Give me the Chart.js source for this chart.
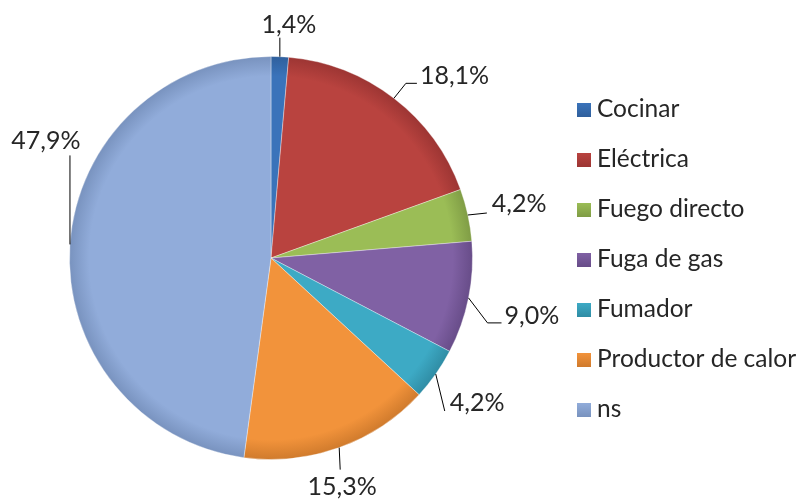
<!DOCTYPE html>
<html>
<head>
<meta charset="utf-8">
<script src="https://cdn.jsdelivr.net/npm/chart.js@4/dist/chart.umd.min.js"></script>
<style>
  html, body { margin: 0; padding: 0; background: #fff; }
  #wrap { width: 805px; height: 501px; position: relative; }
</style>
</head>
<body>
<div id="wrap"><canvas id="pieChart" width="805" height="501"></canvas></div>
<script>
// Chart data
const categories = ["Cocinar", "Eléctrica", "Fuego directo", "Fuga de gas", "Fumador", "Productor de calor", "ns"];
const percentages = [1.4, 18.1, 4.2, 9.0, 4.2, 15.3, 47.9];
const sliceColors = ["#3A73BA", "#B9433F", "#9BBD56", "#8061A4", "#3DAAC5", "#F2933B", "#91ACDA"];
const edgeColors = ["#2F5F9C", "#9C3533", "#7F9C45", "#674C88", "#2F8CA4", "#CF7A2C", "#7892BE"];

// Label placement: leader end offset from slice edge, horizontal tail, text offset
const labelPlacement = [
    { lead: [0, -19], tail: 0, text: [9, -13], align: "center" },
    { lead: [12, -15], tail: 11, text: [3, -7], align: "left" },
    { lead: [19, -2], tail: 0, text: [5, -9], align: "left" },
    { lead: [19, 25], tail: 14, text: [3, -7], align: "left" },
    { lead: [9, 37], tail: 0, text: [5, -8], align: "left" },
    { lead: [1, 22], tail: 0, text: [2, 17], align: "center" },
    { lead: [0, -89], tail: 0, text: [-24, -14], align: "center" }
];

const LABEL_FONT = "25px Lato";
const LEGEND_FONT = "24.5px Lato";

function formatPct(v) {
    return v.toFixed(1).replace(".", ",") + "%";
}

// Radial shading so slices get a slightly darker rim
function sliceFill(context) {
    const i = context.dataIndex;
    const area = context.chart.chartArea;
    if (!area) return sliceColors[i];
    const cx = (area.left + area.right) / 2;
    const cy = (area.top + area.bottom) / 2;
    const r = Math.min(area.right - area.left, area.bottom - area.top) / 2;
    const g = context.chart.ctx.createRadialGradient(cx, cy, 0, cx, cy, r);
    g.addColorStop(0, sliceColors[i]);
    g.addColorStop(0.9, sliceColors[i]);
    g.addColorStop(1, edgeColors[i]);
    return g;
}

// Draws percentage labels with leader lines
const outLabels = {
    id: "outLabels",
    afterDatasetsDraw(chart) {
        const ctx = chart.ctx;
        const meta = chart.getDatasetMeta(0);
        ctx.save();
        ctx.strokeStyle = "#000";
        ctx.lineWidth = 1;
        ctx.fillStyle = "#262626";
        ctx.font = LABEL_FONT;
        ctx.textBaseline = "middle";
        meta.data.forEach((arc, i) => {
            const mid = (arc.startAngle + arc.endAngle) / 2;
            const ex = arc.x + Math.cos(mid) * arc.outerRadius;
            const ey = arc.y + Math.sin(mid) * arc.outerRadius;
            const p = labelPlacement[i];
            const lx = ex + p.lead[0], ly = ey + p.lead[1];
            const tx = lx + p.tail;
            ctx.beginPath();
            ctx.moveTo(ex, ey);
            ctx.lineTo(lx, ly);
            if (p.tail) ctx.lineTo(tx, ly);
            ctx.stroke();
            ctx.textAlign = p.align;
            ctx.fillText(formatPct(percentages[i]), tx + p.text[0], ly + p.text[1]);
        });
        ctx.restore();
    }
};

// Draws legend on the right side
const sideLegend = {
    id: "sideLegend",
    afterDraw(chart) {
        const ctx = chart.ctx;
        ctx.save();
        ctx.font = LEGEND_FONT;
        ctx.textBaseline = "middle";
        ctx.textAlign = "left";
        categories.forEach((name, i) => {
            const y = 109 + i * 50;
            const g = ctx.createLinearGradient(0, y - 6, 0, y + 8);
            g.addColorStop(0, sliceColors[i]);
            g.addColorStop(1, edgeColors[i]);
            ctx.fillStyle = g;
            ctx.fillRect(577, y - 6, 14, 14);
            ctx.fillStyle = "#262626";
            ctx.fillText(name, 597, y);
        });
        ctx.restore();
    }
};

const ctxPie = document.getElementById("pieChart").getContext("2d");
new Chart(ctxPie, {
    type: "pie",
    data: {
        labels: categories,
        datasets: [{
            data: percentages,
            backgroundColor: sliceFill,
            borderColor: "rgba(255,255,255,0.35)",
            borderWidth: 1
        }]
    },
    options: {
        responsive: false,
        animation: false,
        layout: { padding: { left: 69, right: 332, top: 56, bottom: 41 } },
        plugins: {
            legend: { display: false },
            tooltip: { enabled: false }
        }
    },
    plugins: [outLabels, sideLegend]
});
</script>
</body>
</html>
